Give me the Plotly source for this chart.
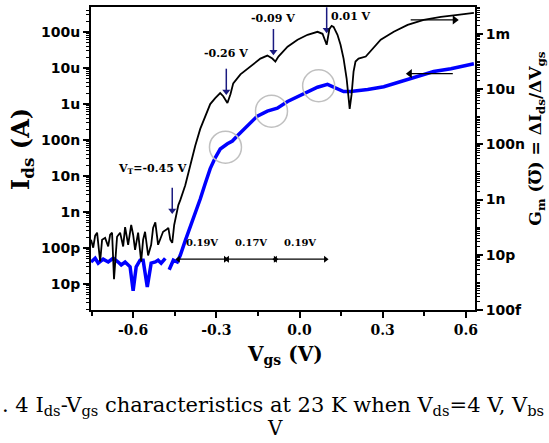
import math
import plotly.graph_objects as go

# ---------------- data ----------------
# Transconductance Gm (black, right axis)
gm_vgs = [-0.752, -0.744, -0.737, -0.730, -0.719, -0.712, -0.701, -0.690, -0.683, -0.676,
          -0.669, -0.658, -0.647, -0.636, -0.629, -0.618, -0.607, -0.600, -0.593, -0.582,
          -0.571, -0.564, -0.557, -0.546, -0.535, -0.528, -0.520, -0.510, -0.499, -0.492,
          -0.481, -0.473, -0.466, -0.459, -0.452, -0.445, -0.437, -0.430, -0.419, -0.412,
          -0.394, -0.376, -0.358, -0.340, -0.322, -0.304, -0.286, -0.275, -0.260, -0.249,
          -0.239, -0.213, -0.177, -0.141, -0.116, -0.098, -0.087, -0.076, -0.043, -0.007,
          0.029, 0.065, 0.083, 0.098, 0.108, 0.116, 0.123, 0.137, 0.148, 0.159,
          0.170, 0.177, 0.181, 0.188, 0.195, 0.202, 0.213, 0.239, 0.264, 0.293,
          0.340, 0.390, 0.448, 0.510, 0.571, 0.629]
gm_val = [3.5e-11, 1.8e-11, 4.9e-11, 6.3e-11, 5.7e-12, 3.5e-11, 4.1e-11, 2.0e-11, 5.3e-11, 6.3e-11,
          1.3e-12, 4.5e-11, 6.3e-11, 2.0e-11, 1.0e-10, 2.3e-11, 1.2e-10, 5.3e-11, 1.5e-11, 6.3e-11,
          5.7e-12, 3.5e-11, 6.8e-11, 9.4e-12, 2.3e-11, 9.4e-11, 1.5e-10, 2.3e-11, 4.5e-11, 6.8e-11,
          8.0e-11, 9.4e-11, 3.5e-11, 2.7e-11, 1.2e-10, 2.8e-10, 6.3e-10, 9.5e-10, 2.2e-9, 3.3e-9,
          1.7e-8, 8.9e-8, 3.6e-7, 1.06e-6, 2.85e-6, 4.7e-6, 7.1e-6, 5.5e-6, 3.1e-6, 6.5e-6,
          1.6e-5, 3.4e-5, 6.6e-5, 1.27e-4, 1.63e-4, 1.27e-4, 9.9e-5, 1.5e-4, 3.4e-4, 6.1e-4,
          9.2e-4, 1.18e-3, 1.0e-3, 4.0e-4, 1.5e-3, 1.94e-3, 1.78e-3, 9.2e-4, 4.0e-4, 1.27e-4,
          2.4e-5, 3.7e-6, 1.9e-6, 6.5e-6, 4.3e-5, 9.9e-5, 1.27e-4, 1.5e-4, 2.9e-4, 6.1e-4,
          1.18e-3, 2.1e-3, 3.2e-3, 4.1e-3, 4.8e-3, 5.7e-3]

# Drain current Ids (blue, left axis); None marks a gap in the trace
ids_vgs = [-0.752, -0.737, -0.726, -0.708, -0.690, -0.672, -0.654, -0.643, -0.629, -0.611,
           -0.600, -0.589, -0.575, -0.564, -0.549, -0.535, -0.520, -0.510, -0.499, -0.484,
           -0.477, -0.470, -0.455, -0.441, -0.430, -0.412, -0.394, -0.376, -0.358, -0.340,
           -0.322, -0.304, -0.286, -0.260, -0.242, -0.224, -0.188, -0.152, -0.116, -0.080,
           -0.043, -0.007, 0.029, 0.065, 0.101, 0.119, 0.137, 0.159, 0.184, 0.246,
           0.304, 0.365, 0.426, 0.484, 0.546, 0.629]
ids_val = [4.1e-11, 5.2e-11, 3.8e-11, 4.9e-11, 4.1e-11, 5.2e-11, 4.1e-11, 3.4e-11, 4.1e-11, 3.0e-11,
           6.5e-12, 3.0e-11, 4.6e-11, 4.6e-11, 8.3e-12, 3.8e-11, 4.1e-11, 4.6e-11, 3.8e-11, 5.2e-11,
           None, 2.5e-11, 4.6e-11, 4.1e-11, 6.3e-11, 1.6e-10, 3.7e-10, 9.8e-10, 2.3e-9, 6.2e-9,
           1.6e-8, 3.2e-8, 5.6e-8, 7.8e-8, 9.3e-8, 1.3e-7, 2.4e-7, 4.6e-7, 6.3e-7, 7.6e-7,
           1.17e-6, 1.6e-6, 2.2e-6, 2.9e-6, 3.5e-6, 3.0e-6, 2.5e-6, 2.2e-6, 2.2e-6, 2.5e-6,
           3.0e-6, 4.2e-6, 5.8e-6, 7.9e-6, 9.5e-6, 1.3e-5]

# Highlight circles on the Ids curve
circle_vgs = [-0.267, -0.101, 0.069]
circle_ids = [6.3e-8, 6.3e-7, 3.2e-6]

# Gm-peak markers (arrows drawn on the Ids axis scale)
peak_labels = ["V<sub>T</sub>=-0.45 V", "-0.26 V", "-0.09 V", "0.01 V"]
peak_vgs = [-0.459, -0.264, -0.094, 0.098]
peak_tip = [1.1e-9, 2.2e-6, 2.8e-5, 1.15e-4]
peak_tail = [4.7e-9, 9.5e-6, 1.2e-4, 4.8e-4]
peak_lab_vgs = [-0.531, -0.264, -0.094, 0.184]
peak_lab_val = [1.6e-8, 2.45e-5, 2.3e-4, 2.75e-4]

# Spacing arrows between peaks
span_start = [-0.437, -0.260, -0.087]
span_end = [-0.267, -0.087, 0.094]
span_labels = ["0.19V", "0.17V", "0.19V"]
span_level = 4.9e-11
span_label_level = 1.45e-10

# Axis-direction arrows: (start Vgs, end Vgs, Ids level)
dir_start = [0.401, 0.553]
dir_end = [0.560, 0.398]
dir_level = [2.15e-4, 6.9e-6]

# Tick labels
x_tickvals = [-0.6, -0.3, 0.0, 0.3, 0.6]
x_ticktext = ["-0.6", "-0.3", "0.0", "0.3", "0.6"]
x_minor = [-0.75, -0.45, -0.15, 0.15, 0.45]
left_tickvals = [1e-11, 1e-10, 1e-9, 1e-8, 1e-7, 1e-6, 1e-5, 1e-4]
left_ticktext = ["10p", "100p", "1n", "10n", "100n", "1u", "10u", "100u"]
right_tickvals = [1e-13, 1e-11, 1e-9, 1e-7, 1e-5, 1e-3]
right_ticktext = ["100f", "10p", "1n", "100n", "10u", "1m"]

SERIF = "DejaVu Serif, serif"
SANS = "DejaVu Sans, sans-serif"
NAVY = "#1a1a80"


def minor_log(lo, hi, majors):
    out = []
    for k in range(lo, hi + 1):
        for m in range(1, 10):
            v = m * 10.0 ** k
            if m == 1 and any(abs(v - t) / t < 1e-6 for t in majors):
                continue
            out.append(v)
    return out


def arrow(fig, xs, ys, symbols, opac, color, width, size):
    fig.add_trace(go.Scatter(
        x=xs, y=ys, mode="lines+markers", showlegend=False, hoverinfo="skip",
        line=dict(color=color, width=width),
        marker=dict(symbol=symbols, size=size, opacity=opac,
                    color=color, line=dict(width=0))))


fig = go.Figure()

fig.add_trace(go.Scatter(x=gm_vgs, y=gm_val, mode="lines", yaxis="y2",
                         line=dict(color="black", width=1.8), showlegend=False))
fig.add_trace(go.Scatter(x=ids_vgs, y=ids_val, mode="lines", connectgaps=False,
                         line=dict(color="#0000ff", width=3.5), showlegend=False))
fig.add_trace(go.Scatter(x=circle_vgs, y=circle_ids, mode="markers",
                         marker=dict(symbol="circle-open", size=32, color="#c0c0c0",
                                     line=dict(width=1.5, color="#c0c0c0")),
                         showlegend=False))

ann = []
for lab, xv, tip, tail, lx, ly in zip(peak_labels, peak_vgs, peak_tip, peak_tail,
                                      peak_lab_vgs, peak_lab_val):
    arrow(fig, [xv, xv], [tail, tip], ["circle", "triangle-down"], [0, 1], NAVY, 1.5, 7)
    ann.append(dict(x=lx, y=math.log10(ly), xref="x", yref="y", text=lab, showarrow=False,
                    font=dict(family=SERIF, size=11, color="black", weight="bold")))

for s, e, lab in zip(span_start, span_end, span_labels):
    arrow(fig, [s, e], [span_level, span_level], ["triangle-left", "triangle-right"],
          [1, 1], "black", 1.2, 6)
    ann.append(dict(x=(s + e) / 2, y=math.log10(span_label_level),
                    xref="x", yref="y", text=lab, showarrow=False,
                    font=dict(family=SERIF, size=10, color="black", weight="bold")))

for s, e, lvl in zip(dir_start, dir_end, dir_level):
    sym = "triangle-right" if e > s else "triangle-left"
    arrow(fig, [s, e], [lvl, lvl], ["circle", sym], [0, 1], "black", 1.2, 8)

# axis titles
ann.append(dict(x=-0.18, y=0.531, xref="paper", yref="paper", textangle=-90,
                xanchor="center", yanchor="middle",
                text="I<sub>ds</sub> (A)", showarrow=False,
                font=dict(family=SERIF, size=24, color="black", weight="bold")))
ann.append(dict(x=1.161, y=0.565, xref="paper", yref="paper", textangle=-90,
                xanchor="center", yanchor="middle",
                text="G<sub>m</sub> (℧) = ΔI<sub>ds</sub>/ΔV<sub>gs</sub>", showarrow=False,
                font=dict(family=SERIF, size=17, color="black", weight="bold")))
ann.append(dict(x=0.505, y=-0.098, xref="paper", yref="paper", yanchor="top",
                xanchor="center",
                text="V<sub>gs</sub> (V)", showarrow=False,
                font=dict(family=SERIF, size=20, color="black", weight="bold")))

# caption
ann.append(dict(x=-0.237, y=-0.318, xref="paper", yref="paper", xanchor="left",
                yanchor="middle",
                text=". 4 I<sub>ds</sub>-V<sub>gs</sub> characteristics at 23 K when V<sub>ds</sub>=4 V, V<sub>bs</sub>",
                showarrow=False, font=dict(family=SERIF, size=21, color="black")))
ann.append(dict(x=0.479, y=-0.39, xref="paper", yref="paper", text="V",
                xanchor="center", yanchor="middle",
                showarrow=False, font=dict(family=SERIF, size=20, color="black")))

fig.update_layout(
    width=549, height=443,
    margin=dict(l=91, r=74, t=5, b=133),
    paper_bgcolor="white", plot_bgcolor="white",
    annotations=ann,
    xaxis=dict(range=[-0.752, 0.633], showgrid=False, zeroline=False,
               showline=True, linewidth=2, linecolor="black", mirror=True,
               tickmode="array", tickvals=x_tickvals, ticktext=x_ticktext,
               ticks="outside", ticklen=6, tickwidth=1.5, tickcolor="black",
               minor=dict(tickmode="array", tickvals=x_minor, ticks="outside",
                          ticklen=4, tickwidth=1.5, tickcolor="black", showgrid=False),
               tickfont=dict(family=SERIF, size=14, color="black", weight="bold")),
    yaxis=dict(type="log", range=[-11.72, -3.31], showgrid=False, zeroline=False,
               showline=True, linewidth=2, linecolor="black",
               tickmode="array", tickvals=left_tickvals, ticktext=left_ticktext,
               ticks="outside", ticklen=6, tickwidth=1.5, tickcolor="black",
               minor=dict(tickmode="array", tickvals=minor_log(-12, -4, left_tickvals),
                          ticks="outside", ticklen=3, tickwidth=1, tickcolor="black",
                          showgrid=False),
               tickfont=dict(family=SANS, size=14, color="black", weight="bold")),
    yaxis2=dict(type="log", range=[-13, -2.03], overlaying="y", side="right",
                showgrid=False, zeroline=False,
                showline=True, linewidth=2, linecolor="black",
                tickmode="array", tickvals=right_tickvals, ticktext=right_ticktext,
                ticks="outside", ticklen=6, tickwidth=1.5, tickcolor="black",
                minor=dict(tickmode="array", tickvals=minor_log(-13, -3, right_tickvals),
                           ticks="outside", ticklen=3, tickwidth=1, tickcolor="black",
                           showgrid=False),
                tickfont=dict(family=SANS, size=14, color="black", weight="bold")),
)

fig.write_html("out.html", config={"displayModeBar": False},
               post_script="document.body.style.margin='0px';")
